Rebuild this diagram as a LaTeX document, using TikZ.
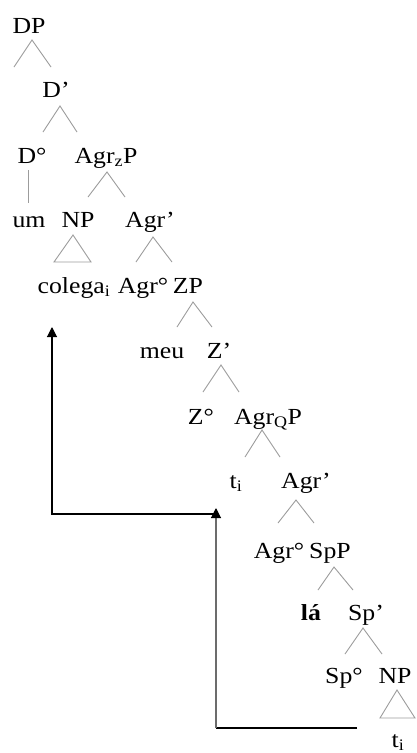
\documentclass[tikz,border=0pt]{standalone}
\usepackage{fontspec}
\setmainfont[FakeStretch=1.12]{Liberation Serif}
\usetikzlibrary{arrows.meta}
\definecolor{branchgray}{HTML}{9C9C9C}
\tikzset{
  lab/.style={anchor=base, inner sep=0pt, font=\fontsize{23}{27}\selectfont},
  branch/.style={draw=branchgray, line width=0.9pt},
  mv/.style={draw=black, line width=1.1pt},
  mvgray/.style={draw=gray!85!black, line width=1.1pt},
  tip/.style={-{Triangle[width=10pt,length=10pt,color=black]}}
}
\begin{document}
\begin{tikzpicture}[x=1pt,y=-1pt]
\useasboundingbox (0,0) rectangle (416,753);
% labels
\node[lab] (DP) at (29,33) {DP};
\node[lab] (Dbar) at (56,97) {D’};
\node[lab] (D0) at (32,163) {D°};
\node[lab] (AgrzP) at (106,163) {Agr\textsubscript{z}P};
\node[lab] (um) at (29,227) {um};
\node[lab] (NPa) at (78,227) {NP};
\node[lab] (Agrbara) at (150,227) {Agr’};
\node[lab] (colega) at (74,293) {colega\textsubscript{i}};
\node[lab] (Agr0a) at (143,293) {Agr°};
\node[lab] (ZP) at (188,293) {ZP};
\node[lab] (meu) at (162,358) {meu};
\node[lab] (Zbar) at (219,358) {Z’};
\node[lab] (Z0) at (201,424) {Z°};
\node[lab] (AgrQP) at (268,424) {Agr\textsubscript{Q}P};
\node[lab] (tia) at (236,488) {t\textsubscript{i}};
\node[lab] (Agrbarb) at (306,488) {Agr’};
\node[lab] (Agr0b) at (279,558) {Agr°};
\node[lab] (SpP) at (330,558) {SpP};
\node[lab] (la) at (311,620) {\textbf{lá}};
\node[lab] (Spbar) at (366,620) {Sp’};
\node[lab] (Sp0) at (344,683) {Sp°};
\node[lab] (NPb) at (395,683) {NP};
\node[lab] (tib) at (398,747) {t\textsubscript{i}};
% branch points
\coordinate (dpA) at (32,40);  \coordinate (dpL) at (14,67);  \coordinate (dpR) at (51,67);
\coordinate (dbA) at (60,106); \coordinate (dbL) at (43,132); \coordinate (dbR) at (77,132);
\coordinate (d0T) at (28,170); \coordinate (d0B) at (28,203);
\coordinate (azA) at (107,172); \coordinate (azL) at (88,197); \coordinate (azR) at (125,197);
\coordinate (npA) at (73,235); \coordinate (npL) at (54,262); \coordinate (npR) at (91,262);
\coordinate (abA) at (153,237); \coordinate (abL) at (136,262); \coordinate (abR) at (172,262);
\coordinate (zpA) at (193,302); \coordinate (zpL) at (177,327); \coordinate (zpR) at (212,327);
\coordinate (zbA) at (221,365); \coordinate (zbL) at (203,392); \coordinate (zbR) at (239,392);
\coordinate (aqA) at (262,430); \coordinate (aqL) at (245,457); \coordinate (aqR) at (280,457);
\coordinate (a2A) at (296,500); \coordinate (a2L) at (278,523); \coordinate (a2R) at (314,523);
\coordinate (spA) at (334,567); \coordinate (spL) at (318,590); \coordinate (spR) at (353,590);
\coordinate (sbA) at (363,628); \coordinate (sbL) at (345,654); \coordinate (sbR) at (382,654);
\coordinate (nbA) at (397,690); \coordinate (nbL) at (380,718); \coordinate (nbR) at (415,718);
% branches
\draw[branch] (dpL) -- (dpA) -- (dpR);
\draw[branch] (dbL) -- (dbA) -- (dbR);
\draw[branch] (d0T) -- (d0B);
\draw[branch] (azL) -- (azA) -- (azR);
\draw[branch] (npL) -- (npA) -- (npR) -- cycle;
\draw[branch] (abL) -- (abA) -- (abR);
\draw[branch] (zpL) -- (zpA) -- (zpR);
\draw[branch] (zbL) -- (zbA) -- (zbR);
\draw[branch] (aqL) -- (aqA) -- (aqR);
\draw[branch] (a2L) -- (a2A) -- (a2R);
\draw[branch] (spL) -- (spA) -- (spR);
\draw[branch] (sbL) -- (sbA) -- (sbR);
\draw[branch] (nbL) -- (nbA) -- (nbR) -- cycle;
% movement arrows
\coordinate (m1s) at (357,728);
\coordinate (m1c) at (216,728);
\coordinate (m1t) at (216,508);
\coordinate (m2s) at (216,514);
\coordinate (m2c) at (52,514);
\coordinate (m2t) at (52,327);
\draw[mv] (m1s) -- (m1c);
\draw[mvgray,tip] (m1c) -- (m1t);
\draw[mv,tip] (m2s) -- (m2c) -- (m2t);
\end{tikzpicture}
\end{document}
